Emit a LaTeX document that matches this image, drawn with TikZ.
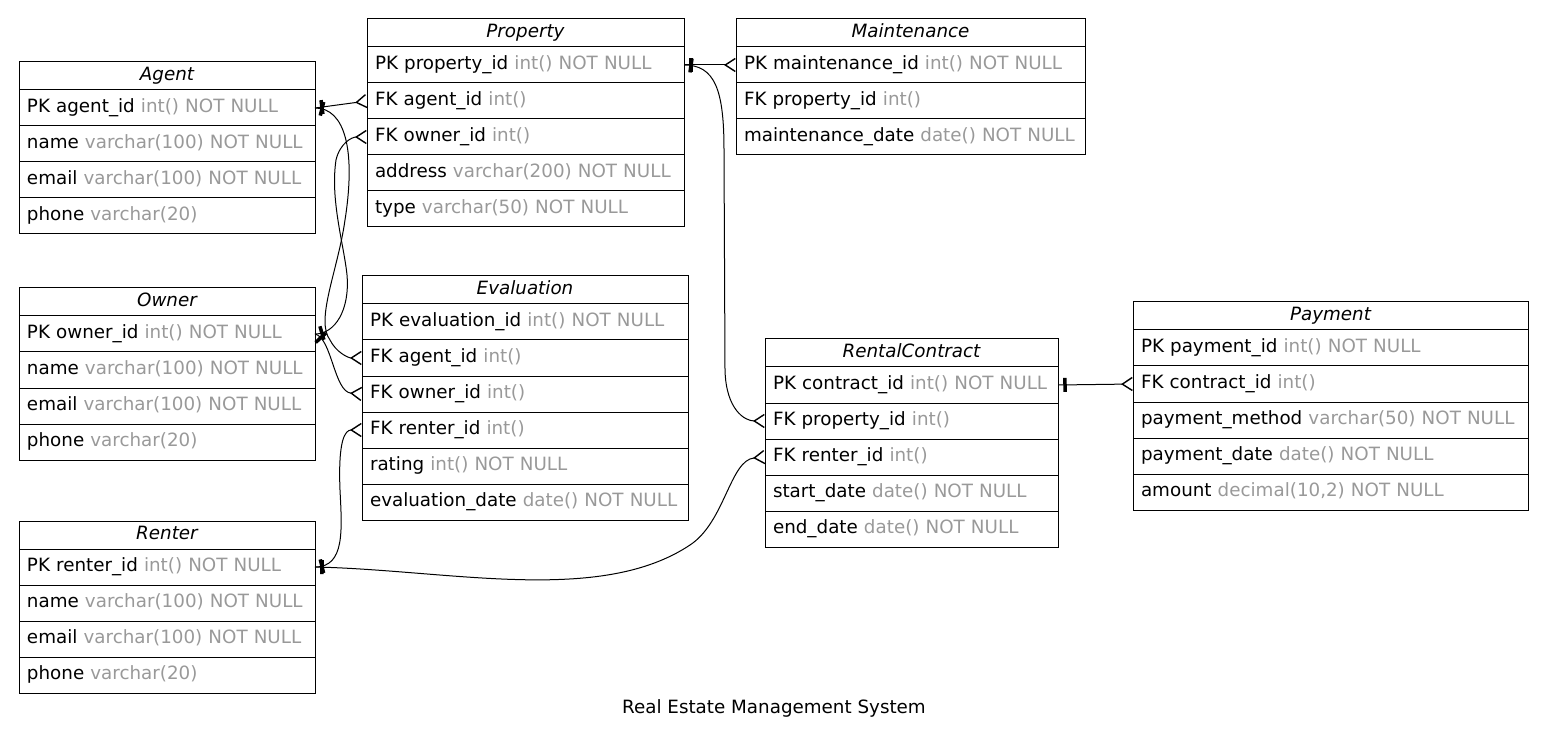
\documentclass[tikz,border=0pt]{standalone}
\usepackage{fontspec}
\setmainfont{DejaVu Sans}
\usetikzlibrary{arrows.meta,positioning,decorations.markings}
\definecolor{TypeClr}{RGB}{153,153,153}
\newcommand{\coltype}[1]{\textcolor{TypeClr}{#1}}
\newcommand{\erfont}{\fontsize{18.3}{22}\selectfont}

\tikzset{
  tablehead/.style={draw,line width=1pt,outer sep=0pt,inner xsep=8pt,inner ysep=0pt,
    minimum height=28pt,text width=#1,align=center,font=\erfont\itshape,
    text height=13pt,text depth=4pt},
  tablerow/.style={draw,line width=1pt,outer sep=0pt,inner xsep=8pt,inner ysep=0pt,
    minimum height=36pt,text width=#1,align=left,font=\erfont,
    text height=13pt,text depth=4pt},
  relation/.style={line width=1pt,
    -{Straight Barb[reversed,length=10pt,width=13pt,line width=1.4pt]},
    postaction={decorate,decoration={markings,mark=at position 7pt with
      {\draw[line width=3.5pt,-] (0pt,-7pt) -- (0pt,7pt);}}}}
}

\begin{document}
\begin{tikzpicture}[x=1pt,y=-1pt]
\useasboundingbox (0,0) rectangle (1548,743);

% Agent
\node[tablehead=280pt,anchor=north west] (agent) at (19,62) {Agent};
\node[tablerow=280pt,below=0pt of agent] (agent-id) {PK agent\_id \coltype{int() NOT NULL}};
\node[tablerow=280pt,below=0pt of agent-id] (agent-name) {name \coltype{varchar(100) NOT NULL}};
\node[tablerow=280pt,below=0pt of agent-name] (agent-email) {email \coltype{varchar(100) NOT NULL}};
\node[tablerow=280pt,below=0pt of agent-email] (agent-phone) {phone \coltype{varchar(20)}};

% Owner
\node[tablehead=280pt,anchor=north west] (owner) at (19,288) {Owner};
\node[tablerow=280pt,below=0pt of owner] (owner-id) {PK owner\_id \coltype{int() NOT NULL}};
\node[tablerow=280pt,below=0pt of owner-id] (owner-name) {name \coltype{varchar(100) NOT NULL}};
\node[tablerow=280pt,below=0pt of owner-name] (owner-email) {email \coltype{varchar(100) NOT NULL}};
\node[tablerow=280pt,below=0pt of owner-email] (owner-phone) {phone \coltype{varchar(20)}};

% Renter
\node[tablehead=280pt,anchor=north west] (renter) at (19,521) {Renter};
\node[tablerow=280pt,below=0pt of renter] (renter-id) {PK renter\_id \coltype{int() NOT NULL}};
\node[tablerow=280pt,below=0pt of renter-id] (renter-name) {name \coltype{varchar(100) NOT NULL}};
\node[tablerow=280pt,below=0pt of renter-name] (renter-email) {email \coltype{varchar(100) NOT NULL}};
\node[tablerow=280pt,below=0pt of renter-email] (renter-phone) {phone \coltype{varchar(20)}};

% Property
\node[tablehead=301pt,anchor=north west] (prop) at (367,19) {Property};
\node[tablerow=301pt,below=0pt of prop] (prop-id) {PK property\_id \coltype{int() NOT NULL}};
\node[tablerow=301pt,below=0pt of prop-id] (prop-agent) {FK agent\_id \coltype{int()}};
\node[tablerow=301pt,below=0pt of prop-agent] (prop-owner) {FK owner\_id \coltype{int()}};
\node[tablerow=301pt,below=0pt of prop-owner] (prop-address) {address \coltype{varchar(200) NOT NULL}};
\node[tablerow=301pt,below=0pt of prop-address] (prop-type) {type \coltype{varchar(50) NOT NULL}};

% Evaluation
\node[tablehead=310pt,anchor=north west] (eval) at (362,276) {Evaluation};
\node[tablerow=310pt,below=0pt of eval] (eval-id) {PK evaluation\_id \coltype{int() NOT NULL}};
\node[tablerow=310pt,below=0pt of eval-id] (eval-agent) {FK agent\_id \coltype{int()}};
\node[tablerow=310pt,below=0pt of eval-agent] (eval-owner) {FK owner\_id \coltype{int()}};
\node[tablerow=310pt,below=0pt of eval-owner] (eval-renter) {FK renter\_id \coltype{int()}};
\node[tablerow=310pt,below=0pt of eval-renter] (eval-rating) {rating \coltype{int() NOT NULL}};
\node[tablerow=310pt,below=0pt of eval-rating] (eval-date) {evaluation\_date \coltype{date() NOT NULL}};

% Maintenance
\node[tablehead=333pt,anchor=north west] (maint) at (736,19) {Maintenance};
\node[tablerow=333pt,below=0pt of maint] (maint-id) {PK maintenance\_id \coltype{int() NOT NULL}};
\node[tablerow=333pt,below=0pt of maint-id] (maint-prop) {FK property\_id \coltype{int()}};
\node[tablerow=333pt,below=0pt of maint-prop] (maint-date) {\mbox{maintenance\_date \coltype{date() NOT NULL}}};

% RentalContract
\node[tablehead=277pt,anchor=north west] (rc) at (765,339) {RentalContract};
\node[tablerow=277pt,below=0pt of rc] (rc-id) {PK contract\_id \coltype{int() NOT NULL}};
\node[tablerow=277pt,below=0pt of rc-id] (rc-prop) {FK property\_id \coltype{int()}};
\node[tablerow=277pt,below=0pt of rc-prop] (rc-renter) {FK renter\_id \coltype{int()}};
\node[tablerow=277pt,below=0pt of rc-renter] (rc-start) {start\_date \coltype{date() NOT NULL}};
\node[tablerow=277pt,below=0pt of rc-start] (rc-end) {end\_date \coltype{date() NOT NULL}};

% Payment
\node[tablehead=379pt,anchor=north west] (pay) at (1133,302) {Payment};
\node[tablerow=379pt,below=0pt of pay] (pay-id) {PK payment\_id \coltype{int() NOT NULL}};
\node[tablerow=379pt,below=0pt of pay-id] (pay-contract) {FK contract\_id \coltype{int()}};
\node[tablerow=379pt,below=0pt of pay-contract] (pay-method) {payment\_method \coltype{varchar(50) NOT NULL}};
\node[tablerow=379pt,below=0pt of pay-method] (pay-date) {payment\_date \coltype{date() NOT NULL}};
\node[tablerow=379pt,below=0pt of pay-date] (pay-amount) {amount \coltype{decimal(10,2) NOT NULL}};

% relations
\draw[relation] (agent-id.east) -- (prop-agent.west);
\draw[relation] (agent-id.east) .. controls (345,108) and (356,150) .. (345,220)
  .. controls (338,270) and (315,320) .. (330,340) .. controls (336,352) and (348,358) .. (eval-agent.west);
\draw[relation] (owner-id.east) .. controls (335,334) and (350,310) .. (347,275)
  .. controls (344,245) and (330,200) .. (336,160) .. controls (340,143) and (352,137) .. (prop-owner.west);
\draw[relation] (owner-id.east) .. controls (332,338) and (334,392) .. (eval-owner.west);
\draw[relation] (renter-id.east) .. controls (345,567) and (342,530) .. (340,490)
  .. controls (338,440) and (345,430) .. (eval-renter.west);
\draw[relation] (renter-id.east) .. controls (450,570) and (600,605) .. (690,545)
  .. controls (725,522) and (730,460) .. (rc-renter.west);
\draw[relation] (prop-id.east) -- (maint-id.west);
\draw[relation] (prop-id.east) .. controls (715,65) and (724,90) .. (724,150) -- (725,370)
  .. controls (726,410) and (745,421) .. (rc-prop.west);
\draw[relation] (rc-id.east) -- (pay-contract.west);

\node[font=\erfont,text height=13pt,text depth=4pt] (title) at (774,709) {Real Estate Management System};
\end{tikzpicture}
\end{document}
